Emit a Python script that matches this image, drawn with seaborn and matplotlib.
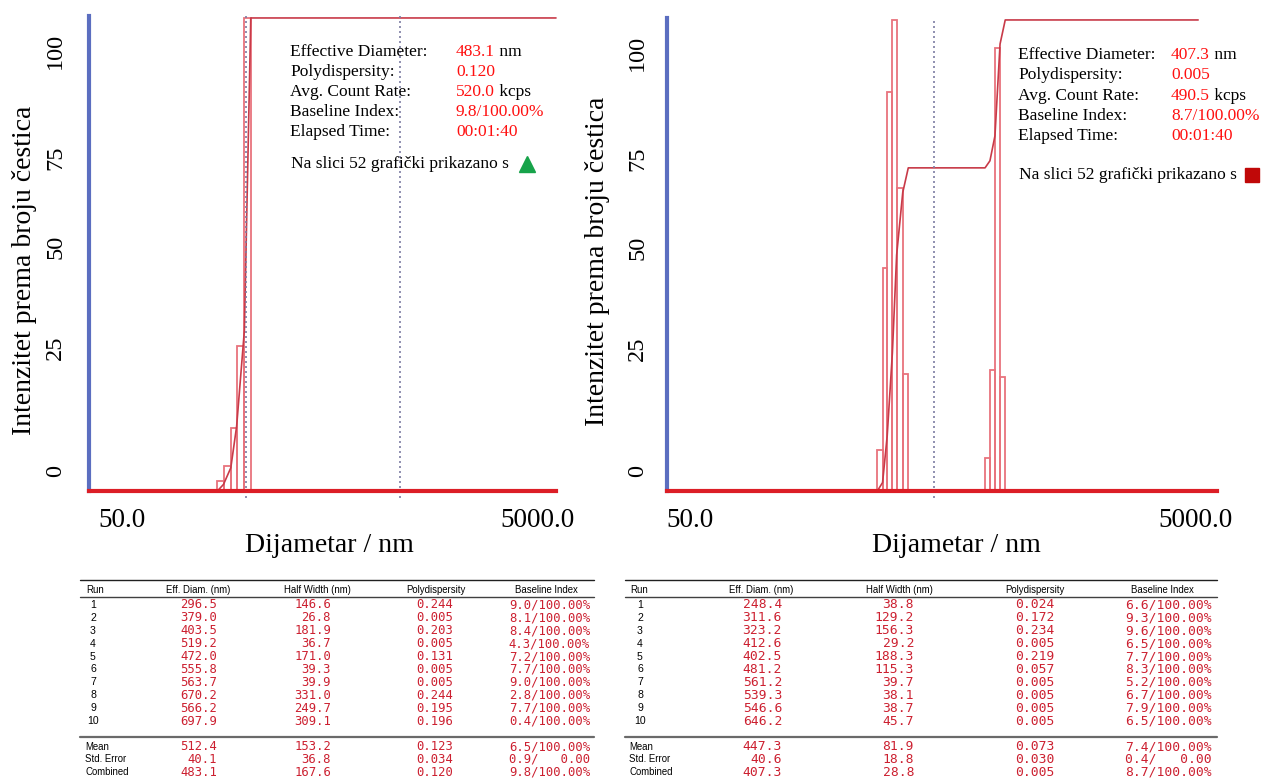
import numpy as np
import pandas as pd
import matplotlib
matplotlib.use("Agg")
import matplotlib.pyplot as plt
from matplotlib.lines import Line2D
from matplotlib.transforms import ScaledTranslation
from matplotlib.ticker import NullLocator
import seaborn as sns

# ------------------------------------------------------------------ data
# Left chart (histogram bins in nm, heights in % of max, cumulative in %)
L_EDGES = [177, 188, 202, 214, 231, 246]
L_PCT = [2.1, 5.3, 13.3, 30.7, 100.0]
L_CUM_X = [177, 188, 202, 214, 231, 246, 5000]
L_CUM = [0, 1.4, 4.9, 13.7, 34.0, 100, 100]
L_MARKS = [234, 1073]

# Right chart: two groups of bins
R_EDGES_A = [291, 304, 316, 330, 342, 360, 377]
R_PCT_A = [8.7, 47.4, 84.8, 100.0, 64.3, 24.9]
R_EDGES_B = [717, 747, 779, 813, 849]
R_PCT_B = [7.1, 25.7, 94.0, 24.3]
R_CUM_X = [291, 304, 316, 330, 342, 360, 377, 717, 747, 779, 813, 849, 4270]
R_CUM = [0, 1.8, 11.7, 29.3, 50.1, 63.4, 68.6, 68.6, 70.1, 75.4, 94.9, 100, 100]
R_MARKS = [468]

X_TICKS = [50, 5000]
X_TICK_LABELS = ["50.0", "5000.0"]
Y_TICK_POS = [4.2, 30.2, 51.7, 70.5, 93.0]
Y_TICK_LABELS = ["0", "25", "50", "75", "100"]

SUMMARY_KEYS = ["Effective Diameter:", "Polydispersity:", "Avg. Count Rate:",
                "Baseline Index:", "Elapsed Time:"]
SUMMARY_UNITS = ["nm", "", "kcps", "", ""]
L_SUMMARY_VALS = ["483.1", "0.120", "520.0", "9.8/100.00%", "00:01:40"]
R_SUMMARY_VALS = ["407.3", "0.005", "490.5", "8.7/100.00%", "00:01:40"]
NOTE = "Na slici 52 grafički prikazano s"

TABLE_HEADERS = ["Run", "Eff. Diam. (nm)", "Half Width (nm)", "Polydispersity", "Baseline Index"]
SUMMARY_ROWS = ["Mean", "Std. Error", "Combined"]
RUNS = list(range(1, 11))

L_EFF = [296.5, 379.0, 403.5, 519.2, 472.0, 555.8, 563.7, 670.2, 566.2, 697.9]
L_HW = [146.6, 26.8, 181.9, 36.7, 171.0, 39.3, 39.9, 331.0, 249.7, 309.1]
L_PD = [0.244, 0.005, 0.203, 0.005, 0.131, 0.005, 0.005, 0.244, 0.195, 0.196]
L_BI = [9.0, 8.1, 8.4, 4.3, 7.2, 7.7, 9.0, 2.8, 7.7, 0.4]
L_MEAN = [512.4, 153.2, 0.123]
L_SE = [40.1, 36.8, 0.034]
L_COMB = [483.1, 167.6, 0.120]
L_SUM_BI = ["6.5/100.00%", "0.9/   0.00", "9.8/100.00%"]

R_EFF = [248.4, 311.6, 323.2, 412.6, 402.5, 481.2, 561.2, 539.3, 546.6, 646.2]
R_HW = [38.8, 129.2, 156.3, 29.2, 188.3, 115.3, 39.7, 38.1, 38.7, 45.7]
R_PD = [0.024, 0.172, 0.234, 0.005, 0.219, 0.057, 0.005, 0.005, 0.005, 0.005]
R_BI = [6.6, 9.3, 9.6, 6.5, 7.7, 8.3, 5.2, 6.7, 7.9, 6.5]
R_MEAN = [447.3, 81.9, 0.073]
R_SE = [40.6, 18.8, 0.030]
R_COMB = [407.3, 28.8, 0.005]
R_SUM_BI = ["7.4/100.00%", "0.4/   0.00", "8.7/100.00%"]

# ------------------------------------------------------------------ style
sns.set_theme(style="white")
plt.rcParams["font.family"] = ["Liberation Serif", "DejaVu Serif"]
plt.rcParams["text.color"] = "black"
plt.rcParams["xtick.color"] = "black"
plt.rcParams["ytick.color"] = "black"

W, H = 1263, 780
fig = plt.figure(figsize=(W / 100, H / 100), dpi=100)
fig.patch.set_facecolor("white")

PINK = "#e8737d"
DARK = "#c83a48"
BASE_RED = "#dc1e26"
BLUE = "#5b6ec0"
DOT = "#7d7da3"
VAL_RED = "#ff1010"
TAB_RED = "#cc2030"
SANS = ["Liberation Sans", "DejaVu Sans"]
MONO = ["DejaVu Sans Mono"]


def fx(px):
    return px / W


def fy(py):
    return 1 - py / H


def hline(y, x0, x1, lw=1.0, color="#202020"):
    fig.add_artist(Line2D([fx(x0), fx(x1)], [fy(y), fy(y)], transform=fig.transFigure,
                          lw=lw, color=color))


def centers(edges):
    e = np.asarray(edges, dtype=float)
    return [float(v) for v in np.sqrt(e[:-1] * e[1:])]


def make_chart(rect, edges, cent, weights, cum_x, cum_y, marks, ytick_pad, xoffs):
    ax = fig.add_axes(rect)
    hist_df = pd.DataFrame({"d": cent, "w": weights})
    bins = [float(b) for b in np.log10(edges)]
    sns.histplot(data=hist_df, x="d", weights="w", bins=bins, log_scale=True,
                 fill=False, element="bars", color=PINK, linewidth=1.3, ax=ax)
    cum_df = pd.DataFrame({"d": cum_x, "c": cum_y})
    sns.lineplot(data=cum_df, x="d", y="c", sort=False, estimator=None, color=DARK,
                 linewidth=1.2, ax=ax)
    for ln in ax.lines:
        ln.set_clip_on(False)
    for m in marks:
        ax.axvline(m, ymin=-0.015, ymax=1.0, color=DOT, lw=1.2, ls=(0, (1.2, 1.8)),
                   clip_on=False, zorder=3)
    ax.set_xlim(50, 5000)
    ax.set_ylim(0, 100.5)
    ax.set_xlabel("")
    ax.set_ylabel("")
    ax.xaxis.set_minor_locator(NullLocator())
    ax.set_xticks(X_TICKS, X_TICK_LABELS, fontsize=19.5)
    ax.set_yticks(Y_TICK_POS, Y_TICK_LABELS, fontsize=17.5, rotation=90, va="center")
    ax.tick_params(axis="x", length=0, pad=12.2, colors="black")
    ax.tick_params(axis="y", length=0, pad=ytick_pad, colors="black")
    for tick, dx in zip(ax.xaxis.get_major_ticks(), xoffs):
        tick.label1.set_transform(tick.label1.get_transform() +
                                  ScaledTranslation(dx / 100, 0, fig.dpi_scale_trans))
    ax.spines["top"].set_visible(False)
    ax.spines["right"].set_visible(False)
    ax.spines["left"].set_color(BLUE)
    ax.spines["left"].set_linewidth(3)
    ax.spines["bottom"].set_color(BASE_RED)
    ax.spines["bottom"].set_linewidth(3)
    ax.spines["left"].set_zorder(4)
    ax.spines["bottom"].set_zorder(4)
    ax.set_facecolor("none")
    return ax


# Left chart
axL = make_chart([fx(89.3), 289 / H, 466.7 / W, 475.4 / H], L_EDGES, centers(L_EDGES),
                 L_PCT, L_CUM_X, L_CUM, L_MARKS, 16.6, [32.7, -19])
# Right chart
axR = make_chart([fx(667), 289 / H, 550 / W, 473.4 / H], R_EDGES_A + R_EDGES_B,
                 centers(R_EDGES_A) + centers(R_EDGES_B), R_PCT_A + R_PCT_B,
                 R_CUM_X, R_CUM, R_MARKS, 13.5, [23, -22])

# Axis titles
fig.text(fx(25), fy(270), "Intenzitet prema broju čestica", rotation=90, ha="center",
         va="center", fontsize=20, color="black")
fig.text(fx(597), fy(261), "Intenzitet prema broju čestica", rotation=90, ha="center",
         va="center", fontsize=20, color="black")
fig.text(fx(329), fy(546), "Dijametar / nm", ha="center", va="center", fontsize=20,
         color="black")
fig.text(fx(956), fy(546), "Dijametar / nm", ha="center", va="center", fontsize=20,
         color="black")


def summary_block(ax, xk, xv, ys, vals, note_y, marker_x, marker, mcolor, msize):
    for key, val, unit, y in zip(SUMMARY_KEYS, vals, SUMMARY_UNITS, ys):
        fig.text(fx(xk), fy(y), key, ha="left", va="center", fontsize=12.5, color="black")
        t = fig.text(fx(xv), fy(y), val, ha="left", va="center", fontsize=12.5, color=VAL_RED)
        if unit:
            ax.annotate(" " + unit, xy=(1, 0), xycoords=t, ha="left", va="bottom",
                        fontsize=12.5, color="black", annotation_clip=False)
    fig.text(fx(xk + 1), fy(note_y), NOTE, ha="left", va="center", fontsize=12.5,
             color="black")
    ax.plot([fx(marker_x)], [fy(note_y)], marker=marker, color=mcolor, markersize=msize,
            transform=fig.transFigure, clip_on=False, ls="none")


summary_block(axL, 290, 456, [52, 72, 92, 112, 132], L_SUMMARY_VALS, 164, 527, "^",
              "#17a34a", 11)
summary_block(axR, 1018, 1171, [55, 75, 96, 116, 136], R_SUMMARY_VALS, 175, 1252, "s",
              "#c00808", 10)


def draw_table(x0, x1, run_x, label_x, head_c, val_r, eff, hw, pdv, bi,
               mean, se, comb, sum_bi, vfs):
    hfs = 6.9
    hline(580, x0, x1, lw=1.0, color="#202020")
    fig.text(fx(label_x), fy(590), TABLE_HEADERS[0], ha="left", va="center",
             fontsize=hfs, family=SANS, color="black")
    for h, c in zip(TABLE_HEADERS[1:], head_c):
        fig.text(fx(c), fy(590), h, ha="center", va="center", fontsize=hfs, family=SANS,
                 color="black")
    hline(596.5, x0, x1, lw=1.0, color="#404040")
    for i, run in enumerate(RUNS):
        y = 605 + 12.9 * i
        fig.text(fx(run_x), fy(y), str(run), ha="center", va="center", fontsize=7.6,
                 family=SANS, color="black")
        vals = [f"{eff[i]:.1f}", f"{hw[i]:.1f}", f"{pdv[i]:.3f}", f"{bi[i]:.1f}/100.00%"]
        for v, xr in zip(vals, val_r):
            fig.text(fx(xr), fy(y), v, ha="right", va="center", fontsize=vfs,
                     family=MONO, color=TAB_RED)
    hline(737, x0, x1, lw=1.6, color="#6a6a6a")
    for j, (name, row, sbi) in enumerate(zip(SUMMARY_ROWS, [mean, se, comb], sum_bi)):
        y = [747, 759.5, 772][j]
        fig.text(fx(label_x - 1), fy(y), name, ha="left", va="center", fontsize=hfs,
                 family=SANS, color="black")
        vals = [f"{row[0]:.1f}", f"{row[1]:.1f}", f"{row[2]:.3f}", sbi]
        for v, xr in zip(vals, val_r):
            fig.text(fx(xr), fy(y), v, ha="right", va="center", fontsize=vfs,
                     family=MONO, color=TAB_RED)


draw_table(80, 594, 93, 86, [198, 317, 436, 546], [217, 331, 453, 590],
           L_EFF, L_HW, L_PD, L_BI, L_MEAN, L_SE, L_COMB, L_SUM_BI, 8.8)
draw_table(625, 1217, 640, 630, [761, 899, 1035, 1162], [782, 914, 1054, 1212],
           R_EFF, R_HW, R_PD, R_BI, R_MEAN, R_SE, R_COMB, R_SUM_BI, 9.4)

fig.savefig("out.png", dpi=100, facecolor="white")
